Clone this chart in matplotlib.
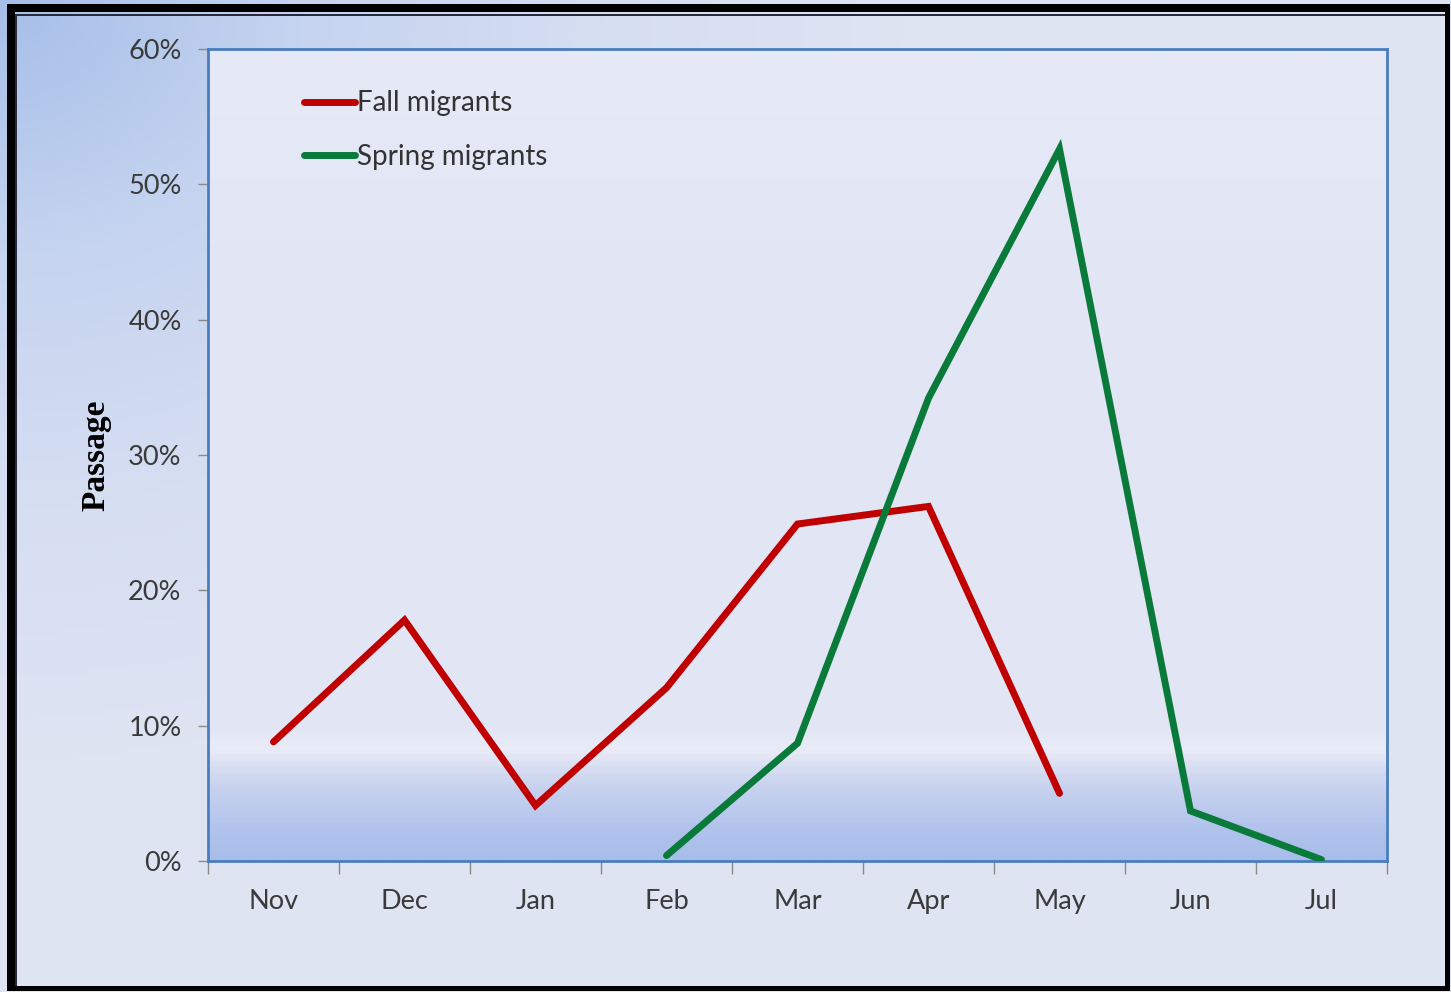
import numpy as np
import matplotlib.pyplot as plt
from matplotlib.patches import Rectangle
from matplotlib.colors import LinearSegmentedColormap

months = ["Nov", "Dec", "Jan", "Feb", "Mar", "Apr", "May", "Jun", "Jul"]
fall_months = ["Nov", "Dec", "Jan", "Feb", "Mar", "Apr", "May"]
fall_values = [8.8, 17.8, 4.1, 12.8, 24.9, 26.2, 5.0]
spring_months = ["Feb", "Mar", "Apr", "May", "Jun", "Jul"]
spring_values = [0.4, 8.7, 34.2, 52.6, 3.7, 0.1]
y_ticks = [0, 10, 20, 30, 40, 50, 60]

W, H = 1451, 992
fig = plt.figure(figsize=(W / 100, H / 100), dpi=100)
fig.patch.set_facecolor("#dfe3f2")

# slide background gradient (darker blue in the top-left corner)
bg = fig.add_axes([0, 0, 1, 1], zorder=-10)
yy, xx = np.mgrid[0:1:200j, 0:1:300j]
d = np.clip(np.sqrt((xx * 1.6) ** 2 + (yy * 1.3) ** 2), 0, 1)
bg_cmap = LinearSegmentedColormap.from_list("bg", ["#a6bfe9", "#c6d4f0", "#d6def2", "#dfe4f3"])
bg.imshow(d, cmap=bg_cmap, extent=[0, 1, 1, 0], aspect="auto", vmin=0, vmax=1)
bg.set_xlim(0, 1)
bg.set_ylim(1, 0)
bg.axis("off")


def px_box(x0, y0, x1, y1, color):
    fig.patches.append(Rectangle((x0 / W, 1 - y1 / H), (x1 - x0) / W, (y1 - y0) / H,
                                 transform=fig.transFigure, color=color, lw=0))


# frame: thick black on top/left, thinner on right/bottom
px_box(7, 4, 1450, 12, "black")
px_box(7, 4, 15, 991, "black")
px_box(1445, 4, 1450, 991, "black")
px_box(7, 986, 1450, 991, "black")
px_box(15, 14, 1445, 15.5, "#2a2a3a")
px_box(15, 14, 16.5, 986, "#2a2a3a")

# plot area
x0, x1, y0, y1 = 208, 1387, 49, 861
ax = fig.add_axes([x0 / W, 1 - y1 / H, (x1 - x0) / W, (y1 - y0) / H])

# plot area fill with bluish gradient toward the bottom
grad = np.linspace(0, 1, 400).reshape(-1, 1)
pa_cmap = LinearSegmentedColormap.from_list(
    "pa", [(0, "#a7bdea"), (0.04, "#b3c4ec"), (0.09, "#c9d3ef"), (0.12, "#dde2f3"),
           (0.135, "#e9ecf7"), (0.16, "#e3e7f5"), (0.6, "#e1e5f4"), (1, "#e6e9f6")])
ax.imshow(grad, cmap=pa_cmap, extent=[-0.5, 8.5, 0, 60], aspect="auto",
          origin="lower", zorder=0, vmin=0, vmax=1)

xf = [months.index(m) for m in fall_months]
xs = [months.index(m) for m in spring_months]
ax.plot(xf, fall_values, color="#c00000", lw=5, solid_capstyle="round",
        solid_joinstyle="miter", label="Fall migrants", zorder=3)
ax.plot(xs, spring_values, color="#0a7a3a", lw=5, solid_capstyle="round",
        solid_joinstyle="miter", label="Spring migrants", zorder=3)

ax.set_xlim(-0.5, 8.5)
ax.set_ylim(0, 60)

for s in ax.spines.values():
    s.set_color("#4a7cc0")
    s.set_linewidth(2)

tick_font = dict(family=["Lato", "DejaVu Sans"], size=19.5, color="#3a3a3a")
ax.set_yticks(y_ticks)
ax.set_yticklabels([f"{v}%" for v in y_ticks], **tick_font)
ax.set_xticks(range(len(months)))
ax.set_xticklabels(months, **tick_font)
ax.set_xticks(np.arange(-0.5, 9, 1), minor=True)
ax.tick_params(axis="x", which="major", length=0, pad=20)
ax.tick_params(axis="x", which="minor", length=9, width=1, color="#8a8a8a", direction="out")
ax.tick_params(axis="y", length=7, width=1, color="#8a8a8a", pad=12)

ax.set_ylabel("Passage", family="Liberation Serif", fontweight="bold", size=24,
              color="black", labelpad=12)

leg = ax.legend(loc="upper left", bbox_to_anchor=(0.06, 0.98), frameon=False,
                prop=dict(family=["Lato", "DejaVu Sans"], size=20),
                handlelength=1.85, handletextpad=0.05, labelspacing=1.0)
for t in leg.get_texts():
    t.set_color("#333333")

fig.savefig("out.png", dpi=100)
